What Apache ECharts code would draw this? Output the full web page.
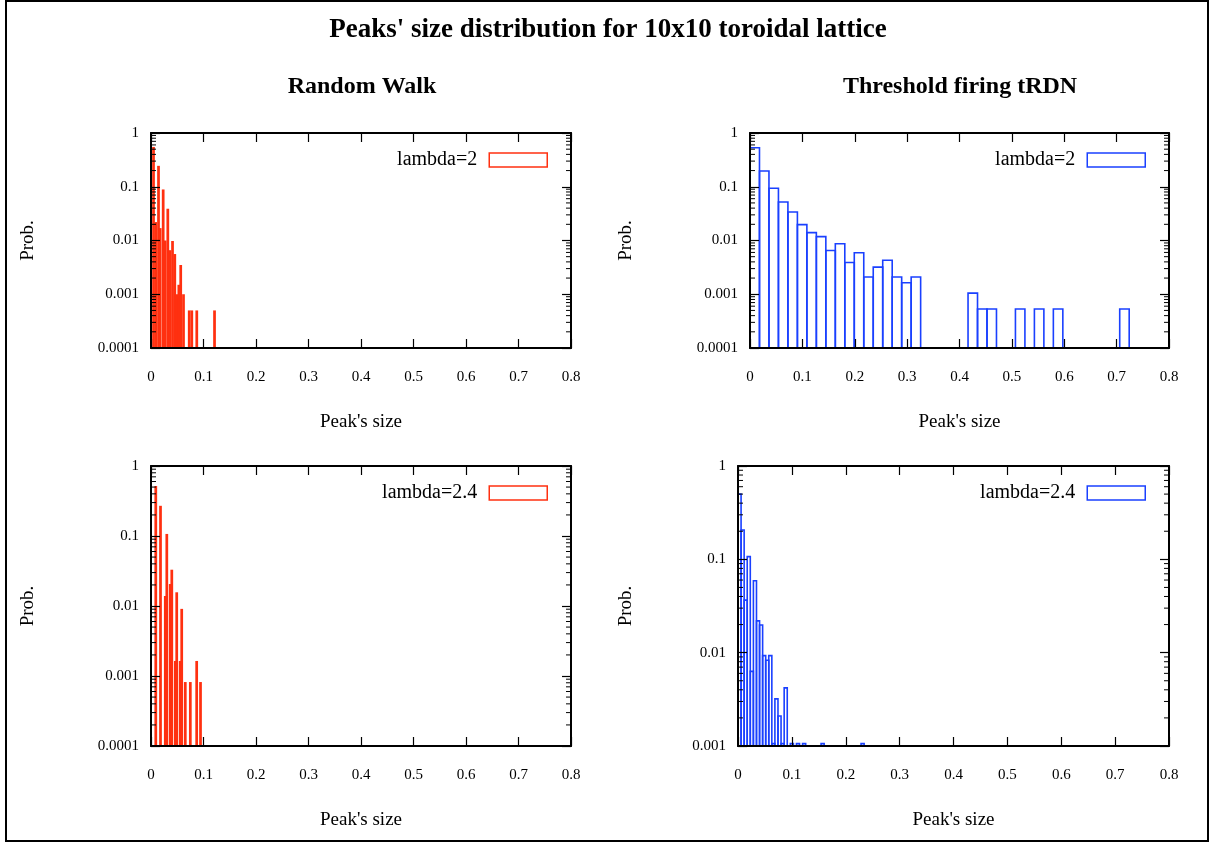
<!DOCTYPE html>
<html>
<head>
<meta charset="utf-8">
<script src="https://cdn.jsdelivr.net/npm/echarts@6/dist/echarts.min.js"></script>
<style>html,body{margin:0;padding:0;background:#fff}#c{width:1216px;height:843px}</style>
</head>
<body>
<div id="c"></div>
<script>
// ---------- data ----------
const mainTitle = "Peaks' size distribution for 10x10 toroidal lattice";
const panelTitles = ['Random Walk', 'Threshold firing tRDN'];
const xTickLabels = ['0', '0.1', '0.2', '0.3', '0.4', '0.5', '0.6', '0.7', '0.8'];
const yTickValues = [1, 0.1, 0.01, 0.001, 0.0001];
const yTickLabels = ['1', '0.1', '0.01', '0.001', '0.0001'];
const seriesNames = ['lambda=2', 'lambda=2', 'lambda=2.4', 'lambda=2.4'];

// Random Walk, lambda=2 (bar centres, probabilities)
const rw2X = [0.0048, 0.0090, 0.0143, 0.0175, 0.0232, 0.0270, 0.0320, 0.0362, 0.0410, 0.0453, 0.0491, 0.0530, 0.0566, 0.0619, 0.0728, 0.0777, 0.0872, 0.1210];
const rw2P = [0.55, 0.022, 0.245, 0.017, 0.089, 0.010, 0.039, 0.0066, 0.0098, 0.0056, 0.001, 0.0015, 0.0035, 0.001, 0.0005, 0.0005, 0.0005, 0.0005];

// Random Walk, lambda=2.4 (bar centres, probabilities)
const rw24X = [0.0091, 0.0181, 0.0272, 0.0301, 0.0366, 0.0396, 0.0463, 0.0490, 0.0556, 0.0585, 0.0653, 0.0749, 0.0870, 0.0943];
const rw24P = [0.52, 0.27, 0.0139, 0.107, 0.0206, 0.033, 0.00164, 0.0157, 0.00164, 0.0091, 0.00082, 0.00082, 0.00164, 0.00082];

// Threshold firing tRDN, lambda=2 (bin left edges, probabilities)
const th2X = [0, 0.0181, 0.0362, 0.0543, 0.0724, 0.0905, 0.1086, 0.1267, 0.1448, 0.1629, 0.1810, 0.1991, 0.2172, 0.2353, 0.2534, 0.2715, 0.2896, 0.3077, 0.4163, 0.4344, 0.4525, 0.5068, 0.5430, 0.5792, 0.7059];
const th2P = [0.53, 0.196, 0.094, 0.052, 0.034, 0.0197, 0.014, 0.0118, 0.0065, 0.0087, 0.0039, 0.0059, 0.0021, 0.0032, 0.0043, 0.0021, 0.00164, 0.0021, 0.00105, 0.00053, 0.00053, 0.00053, 0.00053, 0.00053, 0.00053];

// Threshold firing tRDN, lambda=2.4 (bin left edges, probabilities)
const th24X = [0, 0.0057, 0.0114, 0.0171, 0.0228, 0.0286, 0.0343, 0.0400, 0.0457, 0.0514, 0.0571, 0.0628, 0.0685, 0.0742, 0.0799, 0.0857, 0.0971, 0.1085, 0.1199, 0.1542, 0.2284];
const th24P = [0.50, 0.206, 0.0366, 0.107, 0.0063, 0.059, 0.0219, 0.0198, 0.0093, 0.0083, 0.0093, 0.00106, 0.0032, 0.0021, 0.00106, 0.0042, 0.00106, 0.00106, 0.00106, 0.00106, 0.00106];

// ---------- layout / style ----------
const RED = '#ff3010', BLUE = '#1a40ff';
const FONT = 'Liberation Serif';
const grids = [
  {left: 151, top: 133, width: 420, height: 215},
  {left: 750, top: 133, width: 419, height: 215},
  {left: 151, top: 466, width: 420, height: 280},
  {left: 738, top: 466, width: 431, height: 280}
];
const yMins = [1e-4, 1e-4, 1e-4, 1e-3];
const yNameGaps = [113, 114, 113, 102];
const binWidths = [0.0052, 0.0181, 0.0052, 0.00571];
const panels = [
  {xs: rw2X, ps: rw2P, color: RED, filled: true, centered: true},
  {xs: th2X, ps: th2P, color: BLUE, filled: false, centered: false},
  {xs: rw24X, ps: rw24P, color: RED, filled: true, centered: true},
  {xs: th24X, ps: th24P, color: BLUE, filled: false, centered: false}
];
const legendPos = [
  {right: 668, top: 150}, {right: 70, top: 150},
  {right: 668, top: 483}, {right: 70, top: 483}
];

function yLabel(v) {
  let best = 0, bd = 1e9;
  yTickValues.forEach((t, k) => {
    const d = Math.abs(Math.log10(t) - Math.log10(v));
    if (d < bd) { bd = d; best = k; }
  });
  return yTickLabels[best];
}

const axisLine = {show: true, onZero: false, lineStyle: {color: '#000', width: 2}};
const axisTick = {show: true, inside: true, length: 9, lineStyle: {color: '#000', width: 1.2}};
const labelStyle = {fontSize: 15, fontFamily: FONT, color: '#000'};
const nameStyle = {fontSize: 19, fontFamily: FONT, color: '#000'};

const xAxes = [], yAxes = [], series = [], legends = [];
grids.forEach((g, i) => {
  [false, true].forEach(top => {
    xAxes.push({
      type: 'value', gridIndex: i, position: top ? 'top' : 'bottom',
      min: 0, max: 0.8, interval: 0.1, z: 10,
      axisLine, axisTick,
      axisLabel: Object.assign({show: !top, margin: 22,
        formatter: v => xTickLabels[Math.round(v * 10)]}, labelStyle),
      splitLine: {show: false},
      name: top ? '' : "Peak's size", nameLocation: 'middle', nameGap: 65,
      nameTextStyle: nameStyle
    });
  });
  [false, true].forEach(right => {
    yAxes.push({
      type: 'log', logBase: 10, gridIndex: i, position: right ? 'right' : 'left',
      min: yMins[i], max: 1, z: 10,
      axisLine, axisTick,
      axisLabel: Object.assign({show: !right, margin: 12, formatter: yLabel}, labelStyle),
      splitLine: {show: false},
      name: right ? '' : 'Prob.', nameLocation: 'middle', nameGap: yNameGaps[i], nameRotate: 90,
      nameTextStyle: nameStyle
    });
  });

  const p = panels[i];
  const w = binWidths[i];
  series.push({
    type: 'custom', name: seriesNames[i], xAxisIndex: 2 * i, yAxisIndex: 2 * i,
    data: p.xs.map((x, k) => [x, p.ps[k]]), clip: true, z: 2,
    renderItem: (params, api) => {
      const x = api.value(0), y = api.value(1);
      const x0 = p.centered ? x - w / 2 : x;
      const a = api.coord([x0, y]);
      const b = api.coord([x0 + w, yMins[i]]);
      return {
        type: 'rect',
        shape: {x: a[0], y: a[1], width: b[0] - a[0], height: b[1] - a[1]},
        style: p.filled ? {fill: p.color, stroke: null}
                        : {fill: 'none', stroke: p.color, lineWidth: 1.6}
      };
    }
  });
  // minor logarithmic ticks (2..9 per decade) on left and right borders
  series.push({
    type: 'custom', xAxisIndex: 2 * i, yAxisIndex: 2 * i, data: [[0, 1]],
    silent: true, clip: false, z: 12,
    renderItem: (params, api) => {
      const cs = params.coordSys;
      const children = [];
      const e0 = Math.round(Math.log10(yMins[i]));
      for (let e = e0; e < 0; e++) {
        for (let m = 2; m <= 9; m++) {
          const yy = api.coord([0, m * Math.pow(10, e)])[1];
          children.push({type: 'line', shape: {x1: cs.x, y1: yy, x2: cs.x + 5, y2: yy},
            style: {stroke: '#000', lineWidth: 1}});
          children.push({type: 'line', shape: {x1: cs.x + cs.width, y1: yy, x2: cs.x + cs.width - 5, y2: yy},
            style: {stroke: '#000', lineWidth: 1}});
        }
      }
      return {type: 'group', children};
    }
  });
  legends.push(Object.assign({
    data: [{name: seriesNames[i], icon: 'rect',
      itemStyle: {color: 'transparent', borderColor: p.color, borderWidth: 1.5}}],
    align: 'right', padding: 0, itemWidth: 58, itemHeight: 14,
    selectedMode: false,
    textStyle: {fontSize: 20, fontFamily: FONT, color: '#000', padding: [0, 7, 0, 0]}
  }, legendPos[i]));
});

const chart = echarts.init(document.getElementById('c'), null, {renderer: 'canvas'});
chart.setOption({
  animation: false,
  backgroundColor: '#fff',
  title: {
    text: mainTitle, left: 'center', top: 17, padding: 0,
    textStyle: {fontSize: 27, fontWeight: 'bold', fontFamily: FONT, color: '#000'}
  },
  grid: grids.map(g => Object.assign({containLabel: false, outerBoundsMode: 'none'}, g)),
  xAxis: xAxes,
  yAxis: yAxes,
  legend: legends,
  series,
  graphic: [
    {type: 'rect', shape: {x: 6, y: 1, width: 1202, height: 840},
     style: {fill: 'none', stroke: '#000', lineWidth: 2}, silent: true},
    {type: 'text', x: 362, y: 87,
     style: {text: panelTitles[0], align: 'center', verticalAlign: 'middle',
             font: 'bold 24px "Liberation Serif"', fill: '#000'}},
    {type: 'text', x: 960, y: 87,
     style: {text: panelTitles[1], align: 'center', verticalAlign: 'middle',
             font: 'bold 24px "Liberation Serif"', fill: '#000'}}
  ]
});
</script>
</body>
</html>
